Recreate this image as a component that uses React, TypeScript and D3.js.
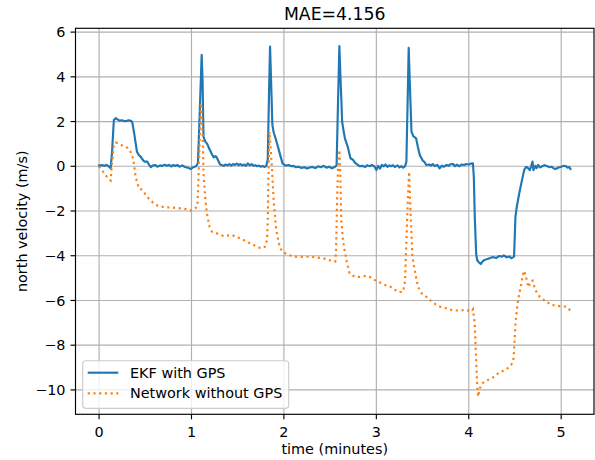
import React from "react";
import * as d3 from "d3";

// EKF north velocity (with GPS), time in minutes
const ekfTime = [
  0.0, 0.03, 0.06, 0.08, 0.11, 0.125, 0.14, 0.16, 0.18, 0.2, 0.22, 0.25, 0.27, 0.3, 0.32, 0.35, 0.36, 0.38,
  0.41, 0.43, 0.45, 0.47, 0.49, 0.52, 0.54, 0.56, 0.58, 0.61, 0.63, 0.66, 0.68, 0.71, 0.73, 0.76, 0.78, 0.8,
  0.83, 0.85, 0.87, 0.9, 0.93, 0.96, 0.99, 1.02, 1.05, 1.07, 1.09, 1.11, 1.12, 1.13, 1.15, 1.17, 1.19, 1.2,
  1.22, 1.24, 1.26, 1.27, 1.29, 1.31, 1.33, 1.35, 1.37, 1.39, 1.41, 1.43, 1.45, 1.47, 1.49, 1.51, 1.53, 1.55,
  1.57, 1.59, 1.61, 1.63, 1.65, 1.67, 1.69, 1.71, 1.73, 1.75, 1.77, 1.79, 1.81, 1.825, 1.84, 1.85, 1.86,
  1.875, 1.89, 1.91, 1.93, 1.94, 1.96, 1.985, 2.0, 2.02, 2.05, 2.08, 2.1, 2.13, 2.16, 2.19, 2.22, 2.25, 2.28,
  2.31, 2.34, 2.37, 2.4, 2.43, 2.46, 2.49, 2.52, 2.55, 2.57, 2.585, 2.6, 2.61, 2.63, 2.645, 2.66, 2.69, 2.72,
  2.75, 2.77, 2.8, 2.82, 2.85, 2.88, 2.9, 2.93, 2.95, 2.98, 3.0, 3.02, 3.04, 3.06, 3.08, 3.1, 3.12, 3.14,
  3.16, 3.18, 3.2, 3.23, 3.25, 3.27, 3.29, 3.31, 3.325, 3.34, 3.35, 3.36, 3.38, 3.4, 3.43, 3.45, 3.47, 3.505,
  3.52, 3.54, 3.57, 3.59, 3.61, 3.63, 3.66, 3.685, 3.71, 3.73, 3.76, 3.78, 3.8, 3.83, 3.85, 3.87, 3.9, 3.92,
  3.95, 3.97, 4.0, 4.02, 4.045, 4.055, 4.065, 4.08, 4.09, 4.11, 4.13, 4.15, 4.17, 4.2, 4.225, 4.26, 4.3, 4.33,
  4.36, 4.38, 4.41, 4.44, 4.46, 4.49, 4.505, 4.52, 4.55, 4.58, 4.6, 4.615, 4.63, 4.645, 4.66, 4.675, 4.69,
  4.7, 4.72, 4.735, 4.75, 4.77, 4.8, 4.82, 4.85, 4.875, 4.9, 4.92, 4.94, 4.96, 4.98, 5.0, 5.03, 5.05, 5.07,
  5.085, 5.1,
];
const ekfNorth = [
  0.03, 0.05, 0.02, 0.06, -0.02, -0.09, 0.6, 2.07, 2.15, 2.1, 2.04, 2.06, 2.02, 2.03, 2.06, 2.02, 1.95, 1.47,
  0.65, 0.5, 0.43, 0.3, 0.21, 0.21, 0.08, -0.04, 0.03, 0.06, -0.02, 0.04, 0.01, 0.07, 0.03, 0.06, -0.01, 0.05,
  0.02, 0.06, -0.02, 0.04, -0.03, -0.06, -0.12, -0.04, 0.0, 0.15, 2.5, 4.98, 3.8, 1.32, 1.1, 1.0, 0.8, 0.73,
  0.55, 0.4, 0.45, 0.42, 0.25, 0.08, 0.05, 0.02, 0.08, 0.04, 0.1, 0.03, 0.1, 0.06, 0.12, 0.05, 0.1, 0.04,
  0.08, 0.02, 0.13, 0.04, 0.1, 0.02, 0.05, 0.0, 0.03, -0.02, 0.01, -0.03, 0.02, 0.3, 3.5, 5.35, 4.0,
  1.85, 1.5, 1.25, 0.95, 0.8, 0.5, 0.13, 0.08, 0.03, 0.06, 0.0, 0.02, -0.04, -0.02, -0.08, -0.04, -0.1, -0.05,
  -0.03, -0.08, 0.0, -0.04, 0.02, -0.06, -0.02, -0.09, -0.03, 0.05, 2.8, 5.38, 4.2, 2.0, 1.6, 1.25, 0.88, 0.36,
  0.28, 0.15, 0.06, 0.0, 0.02, -0.03, 0.05, 0.0, 0.06, -0.01, -0.17, 0.02, -0.1, 0.06, 0.0, 0.08, -0.03, 0.04,
  0.0, 0.05, -0.03, 0.04, -0.05, 0.01, -0.06, 0.0, 0.2, 3.2, 5.3, 4.0, 1.55, 1.35, 1.25, 0.85, 0.5, 0.24,
  0.2, 0.06, 0.08, 0.03, 0.1, 0.01, 0.06, -0.09, 0.03, -0.02, 0.06, 0.02, 0.09, 0.1, 0.0, 0.07, 0.0, 0.08,
  0.05, 0.1, 0.08, 0.12, 0.13, -0.5, -2.25, -3.9, -4.19, -4.3, -4.37, -4.25, -4.19, -4.15, -4.11, -4.06, -4.1, -4.01,
  -4.04, -3.98, -4.07, -4.03, -4.11, -4.04, -2.25, -1.8, -1.13, -0.54, -0.17, -0.05, -0.04, -0.1, -0.17, 0.0, 0.21,
  -0.17, 0.02, -0.08, 0.06, -0.05, 0.01, 0.05, 0.0, -0.04, -0.02, -0.1, -0.12, -0.08, -0.04, -0.02, 0.02, 0.01, -0.06,
  -0.03, -0.12,
];

// Network north velocity (without GPS)
const netTime = [
  0.0, 0.035, 0.07, 0.1, 0.125, 0.14, 0.16, 0.18, 0.22, 0.25, 0.29, 0.32, 0.34, 0.36, 0.38, 0.395, 0.43, 0.45,
  0.47, 0.5, 0.52, 0.55, 0.59, 0.63, 0.665, 0.72, 0.79, 0.84, 0.88, 0.92, 0.96, 0.99, 1.04, 1.065, 1.083, 1.1,
  1.105, 1.123, 1.13, 1.148, 1.166, 1.195, 1.22, 1.274, 1.31, 1.345, 1.39, 1.436, 1.48, 1.526, 1.58, 1.63,
  1.69, 1.74, 1.76, 1.795, 1.817, 1.825, 1.833, 1.843, 1.855, 1.87, 1.89, 1.915, 1.94, 1.96, 1.985, 2.015,
  2.06, 2.12, 2.2, 2.3, 2.336, 2.4, 2.45, 2.48, 2.53, 2.555, 2.565, 2.575, 2.585, 2.6, 2.61, 2.62, 2.64, 2.68,
  2.71, 2.75, 2.79, 2.84, 2.89, 2.93, 2.98, 3.04, 3.09, 3.15, 3.2, 3.25, 3.29, 3.31, 3.325, 3.34, 3.355, 3.365,
  3.38, 3.39, 3.415, 3.45, 3.49, 3.56, 3.6, 3.65, 3.7, 3.76, 3.81, 3.87, 3.92, 3.97, 4.03, 4.045, 4.065, 4.075,
  4.09, 4.1, 4.12, 4.15, 4.17, 4.21, 4.26, 4.33, 4.37, 4.41, 4.46, 4.485, 4.495, 4.505, 4.52, 4.54, 4.57, 4.585,
  4.6, 4.62, 4.645, 4.67, 4.69, 4.72, 4.766, 4.8, 4.84, 4.89, 4.94, 4.98, 5.05, 5.08, 5.1,
];
const netNorth = [
  0.0, -0.2, -0.39, -0.55, -0.64, 0.13, 0.95, 1.06, 1.0, 0.93, 0.88, 0.78, 0.65, 0.45, 0.06, -0.46, -0.98, -1.02,
  -1.06, -1.25, -1.36, -1.5, -1.65, -1.75, -1.8, -1.83, -1.85, -1.86, -1.88, -1.9, -1.92, -1.98, -1.88, -1.77, 0.43, 2.66,
  2.82, 1.18, -0.31, -1.36, -2.1, -2.7, -2.92, -3.0, -3.05, -3.12, -3.1, -3.07, -3.15, -3.22, -3.33, -3.44,
  -3.55, -3.65, -3.67, -3.6, -3.3, -2.47, -0.39, 1.55, 0.9, -0.09, -1.58, -2.77, -3.35, -3.67, -3.8, -3.89,
  -3.98, -4.04, -4.05, -4.04, -4.07, -4.1, -4.14, -4.19, -4.23, -4.26, -3.67, -1.58, -0.09, 0.73, -0.39, -2.32, -3.37, -4.26,
  -4.78, -4.9, -4.96, -4.93, -4.9, -4.95, -5.08, -5.2, -5.3, -5.38, -5.52, -5.63, -5.6, -5.16, -3.37, -1.58, -0.24, -1.5,
  -3.0, -4.04, -4.64, -5.38, -5.68, -5.9, -6.05, -6.2, -6.3, -6.35, -6.42, -6.45, -6.44, -6.42, -6.5, -6.4, -7.0, -8.21,
  -9.7, -10.3, -9.92, -9.7, -9.63, -9.55, -9.45, -9.22, -9.15, -9.07, -8.88, -8.58, -7.91, -7.02, -6.42, -5.83, -5.23, -4.86,
  -4.67, -4.96, -5.41, -5.16, -5.11, -5.53, -5.83, -5.95, -6.05, -6.2, -6.22, -6.25, -6.28, -6.35, -6.47,
];

const xTicks = [0, 1, 2, 3, 4, 5];
const yTicks = [-10, -8, -6, -4, -2, 0, 2, 4, 6];
const titleText = "MAE=4.156";
const xLabel = "time (minutes)";
const yLabel = "north velocity (m/s)";
const seriesNames = ["EKF with GPS", "Network without GPS"];

const W = 595;
const H = 460;
const plot = { left: 75.5, right: 594, top: 28.3, bottom: 414.3 };
const FONT = "DejaVu Sans, sans-serif";
const BLUE = "#1f77b4";
const ORANGE = "#ff7f0e";
const FS = 14.4;
const LW = 2.16;
const DOTS = "2.16,3.56";

const fmt = (v: number) => (v < 0 ? "\u2212" + Math.abs(v) : String(v));

export default function App() {
  const x = d3.scaleLinear().domain([-0.255, 5.355]).range([plot.left, plot.right]);
  const y = d3.scaleLinear().domain([-11.09, 6.17]).range([plot.bottom, plot.top]);

  const line = d3
    .line<[number, number]>()
    .x((d) => x(d[0]))
    .y((d) => y(d[1]));

  const ekf: [number, number][] = ekfTime.map((t, i) => [t, ekfNorth[i]]);
  const net: [number, number][] = netTime.map((t, i) => [t, netNorth[i]]);

  const lx = 82.7;
  const ly = 360.7;
  const lw = 206;
  const lh = 47.6;

  return (
    <svg
      width={W}
      height={H}
      style={{ position: "absolute", left: 0, top: 0, background: "#fff" }}
      fontFamily={FONT}
    >
      <rect x={0} y={0} width={W} height={H} fill="#fff" />
      <defs>
        <clipPath id="plotClip">
          <rect x={plot.left} y={plot.top} width={plot.right - plot.left} height={plot.bottom - plot.top} />
        </clipPath>
      </defs>

      {/* grid */}
      <g stroke="#b0b0b0" strokeWidth={1.15}>
        {xTicks.map((t) => (
          <line key={"gx" + t} x1={x(t)} x2={x(t)} y1={plot.top} y2={plot.bottom} />
        ))}
        {yTicks.map((t) => (
          <line key={"gy" + t} x1={plot.left} x2={plot.right} y1={y(t)} y2={y(t)} />
        ))}
      </g>

      {/* series */}
      <g clipPath="url(#plotClip)" fill="none">
        <path d={line(ekf) || ""} stroke={BLUE} strokeWidth={LW} strokeLinejoin="round" strokeLinecap="square" />
        <path d={line(net) || ""} stroke={ORANGE} strokeWidth={LW} strokeDasharray={DOTS} strokeLinecap="butt" />
      </g>

      {/* frame */}
      <rect
        x={plot.left}
        y={plot.top}
        width={plot.right - plot.left}
        height={plot.bottom - plot.top}
        fill="none"
        stroke="#000"
        strokeWidth={1.15}
      />

      {/* x axis */}
      <g>
        {xTicks.map((t) => (
          <g key={"xt" + t}>
            <line x1={x(t)} x2={x(t)} y1={plot.bottom} y2={plot.bottom + 5} stroke="#000" strokeWidth={1.15} />
            <text x={x(t)} y={plot.bottom + 22.2} textAnchor="middle" fontSize={FS} fill="#000">
              {fmt(t)}
            </text>
          </g>
        ))}
        <text x={(plot.left + plot.right) / 2} y={454} textAnchor="middle" fontSize={FS} fill="#000">
          {xLabel}
        </text>
      </g>

      {/* y axis */}
      <g>
        {yTicks.map((t) => (
          <g key={"yt" + t}>
            <line x1={plot.left - 5} x2={plot.left} y1={y(t)} y2={y(t)} stroke="#000" strokeWidth={1.15} />
            <text x={plot.left - 10} y={y(t)} dy="0.36em" textAnchor="end" fontSize={FS} fill="#000">
              {fmt(t)}
            </text>
          </g>
        ))}
        <text
          transform={`translate(26.5,${(plot.top + plot.bottom) / 2}) rotate(-90)`}
          textAnchor="middle"
          fontSize={FS}
          fill="#000"
        >
          {yLabel}
        </text>
      </g>

      {/* title */}
      <text x={(plot.left + plot.right) / 2} y={20} textAnchor="middle" fontSize={17.3} fill="#000">
        {titleText}
      </text>

      {/* legend */}
      <g>
        <rect x={lx} y={ly} width={lw} height={lh} rx={3} fill="#fff" fillOpacity={0.8} stroke="#cccccc" strokeWidth={1.15} />
        <line x1={lx + 5} x2={lx + 35.6} y1={ly + 12} y2={ly + 12} stroke={BLUE} strokeWidth={LW} />
        <line x1={lx + 5} x2={lx + 35.6} y1={ly + 32.6} y2={ly + 32.6} stroke={ORANGE} strokeWidth={LW} strokeDasharray={DOTS} />
        <text x={lx + 47.3} y={ly + 12} dy="0.36em" fontSize={FS} fill="#000">
          {seriesNames[0]}
        </text>
        <text x={lx + 47.3} y={ly + 32.6} dy="0.36em" fontSize={FS} fill="#000">
          {seriesNames[1]}
        </text>
      </g>
    </svg>
  );
}
